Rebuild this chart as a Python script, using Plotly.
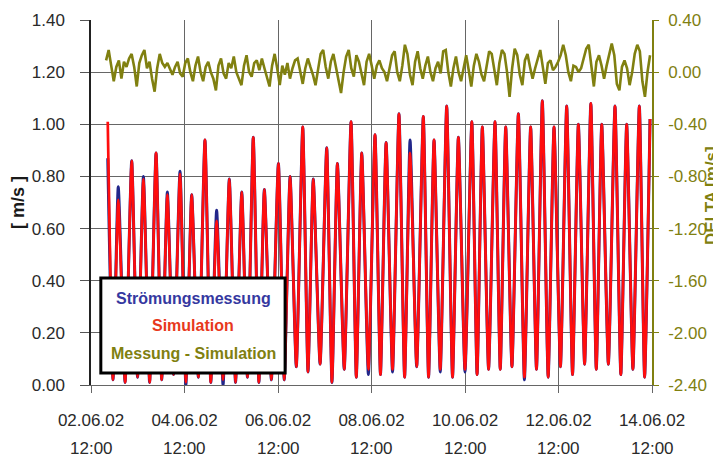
import pandas as pd
import plotly.graph_objects as go

# ---------------- data ----------------
base_time = "2002-06-02 12:00"

# hours after 02.06.02 12:00 of the current-speed maxima and minima
peak_hours = [8.6, 14.0, 20.9, 26.9, 33.4, 39.2, 45.7, 51.7, 58.5, 64.5,
              71.0, 77.4, 83.3, 89.0, 96.2, 102.2, 108.7, 114.1, 121.0, 126.5,
              133.5, 139.0, 145.8, 151.5, 158.1, 163.8, 170.6, 176.1, 182.6, 188.6,
              195.5, 200.9, 207.4, 212.9, 219.4, 225.7, 231.7, 237.7, 244.2, 250.2,
              256.6, 262.2, 269.0, 275.0, 281.5, 287.0]
trough_hours = [11.3, 17.5, 23.9, 30.1, 36.3, 42.4, 48.7, 55.1, 61.5, 67.8,
                74.2, 80.3, 86.2, 92.6, 99.2, 105.4, 111.4, 117.6, 123.7, 130.0,
                136.2, 142.4, 148.6, 154.8, 161.0, 167.2, 173.3, 179.3, 185.6, 192.0,
                198.2, 204.1, 210.1, 216.1, 222.5, 228.7, 234.7, 241.0, 247.2, 253.4,
                259.4, 265.6, 272.0, 278.2, 284.2]

sim_peaks = [1.01, 0.71, 0.86, 0.79, 0.89, 0.73, 0.81, 0.73, 0.94, 0.63,
             0.79, 0.74, 0.95, 0.75, 0.85, 0.80, 0.99, 0.79, 0.91, 0.85,
             1.01, 0.89, 0.96, 0.93, 1.04, 0.89, 1.03, 0.94, 1.07, 0.95,
             1.01, 0.99, 1.01, 0.99, 1.04, 0.99, 1.09, 0.99, 1.07, 1.00,
             1.08, 1.00, 1.07, 1.00, 1.07, 1.02]
sim_troughs = [0.02, 0.01, 0.03, 0.01, 0.02, 0.04, 0.01, 0.03, 0.01, 0.02,
               0.01, 0.03, 0.01, 0.02, 0.02, 0.07, 0.05, 0.08, 0.01, 0.06,
               0.03, 0.06, 0.04, 0.06, 0.03, 0.07, 0.03, 0.06, 0.03, 0.06,
               0.04, 0.06, 0.06, 0.07, 0.03, 0.06, 0.03, 0.07, 0.04, 0.08,
               0.06, 0.08, 0.04, 0.06, 0.03]

meas_peaks = [0.87, 0.76, 0.86, 0.80, 0.89, 0.74, 0.82, 0.73, 0.94, 0.67,
              0.79, 0.74, 0.95, 0.75, 0.85, 0.80, 0.99, 0.79, 0.91, 0.85,
              1.01, 0.89, 0.96, 0.93, 1.04, 0.94, 1.03, 0.94, 1.07, 0.95,
              1.01, 0.99, 1.01, 0.99, 1.04, 0.99, 1.09, 0.99, 1.07, 1.00,
              1.08, 1.00, 1.07, 1.00, 1.07, 1.02]
meas_troughs = [0.02, 0.01, 0.03, 0.01, 0.02, 0.04, 0.00, 0.03, 0.01, 0.00,
                0.01, 0.03, 0.01, 0.02, 0.02, 0.07, 0.05, 0.08, 0.01, 0.06,
                0.03, 0.04, 0.04, 0.05, 0.03, 0.07, 0.03, 0.05, 0.03, 0.05,
                0.04, 0.06, 0.06, 0.07, 0.02, 0.06, 0.03, 0.07, 0.04, 0.08,
                0.06, 0.08, 0.04, 0.06, 0.03]

# Messung - Simulation (right axis), sampled evenly between these times
delta_start = "2002-06-02 19:45"
delta_end = "2002-06-14 11:00"
delta = [0.09, 0.17, 0.05, -0.07, 0.04, 0.09, -0.05, 0.08, 0.04, 0.105,
         0.14, 0.04, -0.11, 0.07, 0.13, 0.17, 0.03, 0.08, -0.05, -0.15,
         0.03, 0.14, 0.07, 0.04, 0.07, 0.03, -0.02, 0.04, 0.08, -0.01,
         -0.035, 0.07, 0.105, 0.0, -0.07, 0.05, 0.12, 0.0, -0.07, 0.04,
         0.08, 0.0, -0.05, -0.14, 0.05, 0.105, -0.01, -0.05, 0.07, 0.03,
         0.12, 0.0, -0.05, -0.10, 0.05, 0.13, 0.0, -0.035, 0.07, 0.09,
         0.015, 0.105, 0.03, -0.05, -0.11, 0.05, 0.14, 0.03, -0.10, 0.05,
         -0.02, 0.07, -0.05, 0.03, 0.09, 0.105, 0.0, -0.09, 0.03, 0.105,
         0.04, -0.02, -0.10, 0.03, 0.14, 0.17, 0.04, -0.05, 0.08, 0.14,
         0.03, -0.05, -0.16, 0.0, 0.12, 0.17, 0.03, -0.035, 0.13, 0.08,
         -0.02, -0.10, 0.08, 0.14, 0.05, -0.05, 0.05, 0.09, 0.03, 0.0,
         -0.07, 0.04, 0.13, 0.16, 0.0, -0.07, 0.05, 0.21, 0.14, -0.02,
         -0.10, 0.08, 0.16, 0.03, -0.05, 0.05, 0.12, 0.0, -0.07, 0.03,
         0.08, -0.01, 0.16, 0.17, 0.0, -0.11, 0.03, 0.12, 0.0, -0.07,
         0.04, 0.13,
         0.015, -0.11, 0.05, 0.14, 0.08, -0.02, -0.07, 0.05, 0.16, 0.14,
         0.0, -0.10, 0.07, 0.17, 0.14, 0.0, -0.19, 0.03, 0.18, 0.13,
         -0.02, -0.10, 0.09, 0.14, 0.04, -0.05, 0.03, 0.105, 0.17, 0.04,
         -0.09, 0.07, 0.09, 0.015, 0.04, 0.08, 0.13, 0.21, 0.13, 0.0,
         -0.07, 0.05, 0.04, 0.0, 0.03, 0.105, 0.18, 0.21, 0.03, -0.11,
         0.08, 0.13, 0.05, -0.05, 0.05, 0.14, 0.22, 0.13, -0.09, -0.14,
         0.04, 0.09, 0.03, -0.10, 0.0, 0.14, 0.21, 0.16, -0.07, -0.19,
         0.0, 0.13]

x_tick_dates = ["2002-06-02 12:00", "2002-06-04 12:00", "2002-06-06 12:00",
                "2002-06-08 12:00", "2002-06-10 12:00", "2002-06-12 12:00",
                "2002-06-14 12:00"]
x_tick_day = ["02.06.02", "04.06.02", "06.06.02", "08.06.02", "10.06.02",
              "12.06.02", "14.06.02"]
x_tick_time = ["12:00"] * 7
left_ticks = [0.0, 0.2, 0.4, 0.6, 0.8, 1.0, 1.2, 1.4]
left_tick_text = ["0.00", "0.20", "0.40", "0.60", "0.80", "1.00", "1.20", "1.40"]
right_ticks = [-2.4, -2.0, -1.6, -1.2, -0.8, -0.4, 0.0, 0.4]
right_tick_text = ["-2.40", "-2.00", "-1.60", "-1.20", "-0.80", "-0.40", "0.00", "0.40"]

legend_labels = ["Strömungsmessung", "Simulation", "Messung - Simulation"]
right_title = "DELTA [m/s]"
left_title = "[ m/s ]"

# ---------------- build series ----------------
base = pd.Timestamp(base_time)


def interleave(peaks, troughs):
    hrs, vals = [], []
    for i, (ph, pv) in enumerate(zip(peak_hours, peaks)):
        hrs.append(ph)
        vals.append(pv)
        if i < len(troughs):
            hrs.append(trough_hours[i])
            vals.append(troughs[i])
    times = base + pd.to_timedelta(hrs, unit="h")
    return times, vals


sim_t, sim_v = interleave(sim_peaks, sim_troughs)
meas_t, meas_v = interleave(meas_peaks, meas_troughs)
delta_t = pd.date_range(delta_start, delta_end, periods=len(delta))

BLUE = "#22268a"
RED = "#ff0d0d"
OLIVE = "#808010"
GRID = "#666666"
TXT = "#2a2a2a"
FONT = "Liberation Sans, Arial, sans-serif"

fig = go.Figure()
fig.add_trace(go.Scatter(x=meas_t, y=meas_v, mode="lines", name=legend_labels[0],
                         line=dict(color=BLUE, width=3, shape="spline", smoothing=0.5)))
fig.add_trace(go.Scatter(x=sim_t, y=sim_v, mode="lines", name=legend_labels[1],
                         line=dict(color=RED, width=2.7, shape="spline", smoothing=0.5)))
fig.add_trace(go.Scatter(x=delta_t, y=delta, mode="lines", name=legend_labels[2],
                         yaxis="y2", line=dict(color=OLIVE, width=2.6)))

# the page body adds an 8px offset, so margins are shifted to keep the plot area in place
fig.update_layout(
    width=721, height=457,
    margin=dict(l=83, r=77, t=12, b=80),
    paper_bgcolor="white", plot_bgcolor="white",
    showlegend=False,
    font=dict(family=FONT, size=17, color=TXT),
    xaxis=dict(
        type="date", range=[x_tick_dates[0], x_tick_dates[-1]],
        tickvals=x_tick_dates, ticktext=x_tick_day,
        showgrid=True, gridcolor=GRID, gridwidth=1,
        ticks="outside", ticklen=7, tickcolor=GRID,
        showline=True, linecolor=GRID, linewidth=1.2,
        tickfont=dict(family=FONT, size=17, color=TXT),
        ticklabelstandoff=12, automargin=False,
        zeroline=False,
    ),
    yaxis=dict(
        range=[0, 1.4], tickvals=left_ticks, ticktext=left_tick_text,
        showgrid=True, gridcolor=GRID, gridwidth=1,
        ticks="outside", ticklen=9, tickcolor="#555555",
        showline=True, linecolor="#222222", linewidth=1.5,
        tickfont=dict(family=FONT, size=17, color=TXT),
        ticklabelstandoff=12, automargin=False,
        zeroline=False,
        title=dict(text="<b>" + left_title + "</b>", standoff=12,
                   font=dict(family=FONT, size=18, color="#1a1a1a")),
    ),
    yaxis2=dict(
        overlaying="y", side="right",
        range=[-2.4, 0.4], tickvals=right_ticks, ticktext=right_tick_text,
        showgrid=False, zeroline=False,
        ticks="outside", ticklen=5, tickcolor=OLIVE,
        showline=True, linecolor=OLIVE, linewidth=1.5,
        tickfont=dict(family=FONT, size=17, color=OLIVE),
        ticklabelstandoff=6, automargin=False,
    ),
)

# right axis title as rotated text
fig.add_annotation(x=1.105, xref="paper", y=0.52, yref="paper",
                   text="<b>" + right_title + "</b>", textangle=-90,
                   showarrow=False, xanchor="center", yanchor="middle",
                   font=dict(family=FONT, size=17, color=OLIVE))

# second tick-label line ("12:00")
for d, t in zip(x_tick_dates, x_tick_time):
    fig.add_annotation(x=d, xref="x", y=-0.175, yref="paper", text=t,
                       showarrow=False, yanchor="middle",
                       font=dict(family=FONT, size=17, color=TXT))

# legend box drawn as text block
fig.add_shape(type="rect", xref="paper", yref="paper", layer="above",
              x0=0.0175, x1=0.346, y0=0.033, y1=0.293,
              line=dict(color="black", width=3), fillcolor="white")
legend_colors = ["#3538a0", "#e8381c", OLIVE]
legend_y = [0.238, 0.162, 0.085]
for lab, col, yy in zip(legend_labels, legend_colors, legend_y):
    fig.add_annotation(x=0.182, xref="paper", y=yy, yref="paper",
                       text="<b>" + lab + "</b>", showarrow=False,
                       xanchor="center", yanchor="middle",
                       font=dict(family=FONT, size=16, color=col))

fig.write_html("out.html")
